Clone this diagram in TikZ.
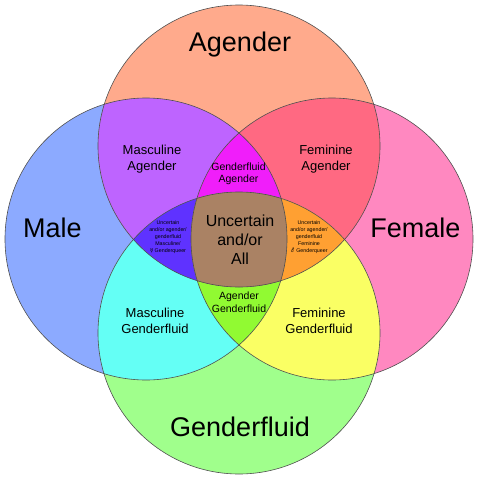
\documentclass[tikz,border=0pt]{standalone}
\usepackage{fontspec}
\setmainfont{Liberation Sans}
\newfontfamily\symfont{DejaVu Sans}
\definecolor{cA}{HTML}{FFAA8C}
\definecolor{cM}{HTML}{8CAAFF}
\definecolor{cF}{HTML}{FF88C0}
\definecolor{cG}{HTML}{A0FF8C}
\definecolor{cMA}{HTML}{BE64FF}
\definecolor{cFA}{HTML}{FF6982}
\definecolor{cMG}{HTML}{64FFF5}
\definecolor{cFG}{HTML}{FAFF64}
\definecolor{cTop}{HTML}{F01EFA}
\definecolor{cBot}{HTML}{91FA32}
\definecolor{cLft}{HTML}{5F32FF}
\definecolor{cRgt}{HTML}{FFA032}
\definecolor{cAll}{HTML}{AA8264}
\definecolor{edge}{HTML}{505050}
\tikzset{
  big/.style={font=\fontsize{27}{30}\selectfont, inner sep=0pt, anchor=base},
  mid/.style={font=\fontsize{13}{16}\selectfont, align=center, inner sep=0pt},
  sml/.style={font=\fontsize{10.5}{12.5}\selectfont, align=center, inner sep=0pt},
  ctr/.style={font=\fontsize{16}{19}\selectfont, align=center, inner sep=0pt},
  tiny/.style={font=\fontsize{5.3}{7}\selectfont, align=center, inner sep=0pt},
  ring/.style={draw=edge, line width=0.6pt}
}
\begin{document}
\begin{tikzpicture}[x=1pt,y=-1pt]
\useasboundingbox[fill=white] (0,0) rectangle (480,480);
\coordinate (T) at (239,146);
\coordinate (B) at (239,333);
\coordinate (L) at (146,239);
\coordinate (R) at (332,239);
\def\rr{141pt}
% single circles
\fill[cM] (L) circle[radius=\rr];
\fill[cF] (R) circle[radius=\rr];
\fill[cA] (T) circle[radius=\rr];
\fill[cG] (B) circle[radius=\rr];
% pairs
\begin{scope}\clip (T) circle[radius=\rr]; \fill[cMA] (L) circle[radius=\rr]; \end{scope}
\begin{scope}\clip (T) circle[radius=\rr]; \fill[cFA] (R) circle[radius=\rr]; \end{scope}
\begin{scope}\clip (B) circle[radius=\rr]; \fill[cMG] (L) circle[radius=\rr]; \end{scope}
\begin{scope}\clip (B) circle[radius=\rr]; \fill[cFG] (R) circle[radius=\rr]; \end{scope}
% triples
\begin{scope}\clip (L) circle[radius=\rr]; \clip (R) circle[radius=\rr]; \fill[cTop] (T) circle[radius=\rr]; \end{scope}
\begin{scope}\clip (L) circle[radius=\rr]; \clip (R) circle[radius=\rr]; \fill[cBot] (B) circle[radius=\rr]; \end{scope}
\begin{scope}\clip (T) circle[radius=\rr]; \clip (B) circle[radius=\rr]; \fill[cLft] (L) circle[radius=\rr]; \end{scope}
\begin{scope}\clip (T) circle[radius=\rr]; \clip (B) circle[radius=\rr]; \fill[cRgt] (R) circle[radius=\rr]; \end{scope}
% all four
\begin{scope}\clip (T) circle[radius=\rr]; \clip (B) circle[radius=\rr]; \clip (L) circle[radius=\rr]; \fill[cAll] (R) circle[radius=\rr]; \end{scope}
% outlines
\draw[ring] (L) circle[radius=\rr];
\draw[ring] (R) circle[radius=\rr];
\draw[ring] (T) circle[radius=\rr];
\draw[ring] (B) circle[radius=\rr];
% labels
\node[big] (agender) at (240,51.5) {Agender};
\node[big] (male) at (52.5,237) {Male};
\node[big] (female) at (415.5,237) {Female};
\node[big] (gf) at (240,436) {Genderfluid};
\node[mid] (ma) at (152,159) {Masculine\\Agender};
\node[mid] (fa) at (326,159.5) {Feminine\\Agender};
\node[sml] (gfa) at (238.5,174) {Genderfluid\\Agender};
\node[ctr] (all) at (240,239.5) {Uncertain\\and/or\\All};
\node[sml] (agf) at (239,302) {Agender\\Genderfluid};
\node[mid] (mg) at (155,321) {Masculine\\Genderfluid};
\node[mid] (fg) at (319,321) {Feminine\\Genderfluid};
\node[tiny] (ul) at (168,237) {Uncertain\\and/or agender/\\genderfluid\\Masculine/\\{\symfont ☿} Genderqueer};
\node[tiny] (ur) at (309,237) {Uncertain\\and/or agender/\\genderfluid\\Feminine\\{\symfont ⚦} Genderqueer};
\end{tikzpicture}
\end{document}
